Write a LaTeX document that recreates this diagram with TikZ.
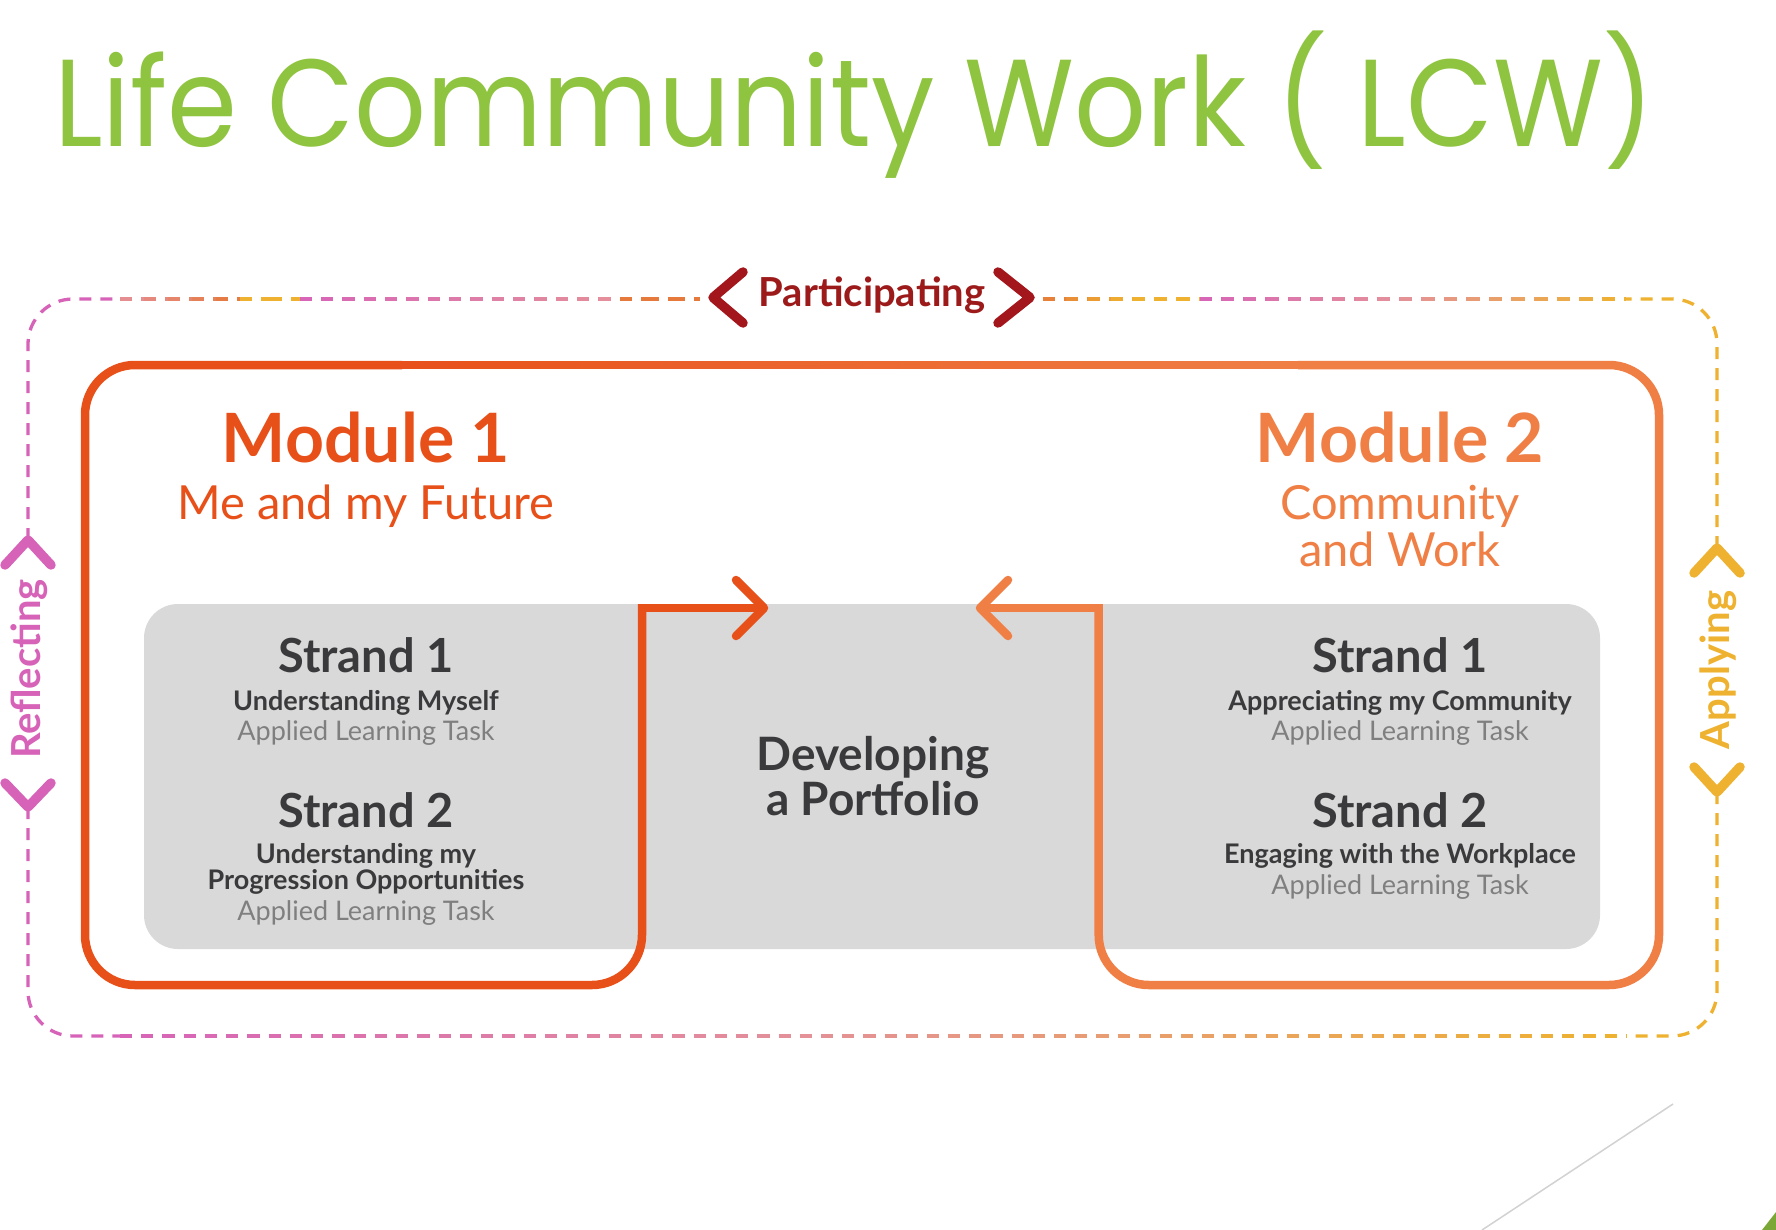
\documentclass[tikz,border=0pt]{standalone}
\usepackage{fontspec}
\setmainfont{Lato}
\newfontfamily\titlefont{Poppins}
\definecolor{mA}{HTML}{E8501A}
\definecolor{mB}{HTML}{EF7F45}
\definecolor{grayBox}{HTML}{D9D9D9}
\definecolor{txtD}{HTML}{3A3A3C}
\definecolor{txtG}{HTML}{7F7F7F}
\definecolor{partC}{HTML}{9C1A1A}
\definecolor{chevC}{HTML}{A3161C}
\definecolor{pinkC}{HTML}{D763B8}
\definecolor{yelC}{HTML}{EEB230}
\definecolor{orgC}{HTML}{E67A3C}
\definecolor{salC}{HTML}{E4909A}
\definecolor{greenT}{HTML}{8FC440}
\newcommand\fs[1]{\fontsize{#1}{#1}\selectfont}
% gradient dashed horizontal line: y, x1, x2, colour1, colour2
\newcommand\gradline[5]{%
  \pgfmathtruncatemacro\nseg{max(1,floor((#3-#2)/21))}%
  \pgfmathsetmacro\seglen{(#3-#2)/\nseg}%
  \foreach \i in {1,...,\nseg}{%
    \pgfmathtruncatemacro\pct{100-100*(\i-0.5)/\nseg}%
    \draw[dsh,color=#4!\pct!#5] (#2+\seglen*\i-\seglen,#1) -- (#2+\seglen*\i,#1);
  }}
\begin{document}
\begin{tikzpicture}[x=1pt,y=-1pt,
  dsh/.style={line width=3.3pt,dash pattern=on 12pt off 9pt},
  modline/.style={line width=8.5pt},
  arrowhd/.style={line width=8.5pt,line cap=round,line join=round},
  chev/.style={line width=9.5pt,line cap=round,line join=round},
  txt/.style={inner sep=0pt,anchor=base},
  modtitle/.style={txt,font=\fs{68}\bfseries},
  modsub/.style={txt,font=\fs{47}},
  strand/.style={txt,font=\fs{47}\bfseries,text=txtD},
  strandsub/.style={txt,font=\fs{27}\bfseries,text=txtD},
  task/.style={txt,font=\fs{27},text=txtG},
  side/.style={txt,rotate=90,font=\fs{40}\bfseries}]
\useasboundingbox (0,0) rectangle (1776,1230);
\fill[white] (0,0) rectangle (1776,1230);

% title
\node[inner sep=0pt,anchor=base west,text=greenT] (title) at (54,147)
  {\scalebox{1}[1.1]{\resizebox{1600pt}{!}{\titlefont\fs{120}Life Community Work ( LCW)}}};

% outer dashed frame
\draw[dsh,pinkC,rounded corners=45pt] (28,540) -- (28,299) -- (120,299);
\draw[dsh,pinkC,rounded corners=45pt] (28,807) -- (28,1036) -- (120,1036);
\draw[dsh,yelC,rounded corners=45pt] (1717,548) -- (1717,299) -- (1626,299);
\draw[dsh,yelC,rounded corners=45pt] (1717,792) -- (1717,1036) -- (1626,1036);
\gradline{299}{120}{240}{salC}{orgC}
\gradline{299}{240}{300}{yelC}{yelC}
\gradline{299}{300}{620}{pinkC}{salC}
\gradline{299}{620}{700}{orgC}{orgC}
\gradline{299}{1043}{1133}{orgC}{yelC}
\gradline{299}{1133}{1200}{yelC}{yelC}
\gradline{299}{1200}{1400}{pinkC}{salC}
\gradline{299}{1400}{1626}{salC}{yelC}
\gradline{1036}{120}{800}{pinkC}{salC}
\gradline{1036}{800}{1626}{salC}{yelC}

% side labels with chevrons
\draw[chev,chevC] (743,272) -- (713,297.5) -- (743,323);
\draw[chev,chevC] (998,272) -- (1030,297.5) -- (998,323);
\node[txt,font=\fs{40}\bfseries,text=partC] (part) at (872,306) {Participating};

\draw[chev,pinkC] (5,565) -- (28,540) -- (51,565);
\draw[chev,pinkC] (5,783) -- (28,807) -- (51,783);
\node[side,text=pinkC] (refl) at (40,669) {Reflecting};

\draw[chev,yelC] (1694,573) -- (1717,548) -- (1740,573);
\draw[chev,yelC] (1694,767) -- (1717,792) -- (1740,767);
\node[side,text=yelC] (appl) at (1729,670) {Applying};

% grey band
\fill[grayBox,rounded corners=34pt] (144,604) rectangle (1600,949);

% module outlines
\draw[modline,mA,rounded corners=50pt] (642,604) -- (642,985) -- (85,985) -- (85,365) -- (402,365);
\draw[modline,mA] (637.75,608) -- (764,608);
\draw[arrowhd,mA] (736,580) -- (764,608) -- (736,636);
\draw[modline,mB,rounded corners=50pt] (1098.7,604) -- (1098.7,985) -- (1659,985) -- (1659,365) -- (1298,365);
\draw[modline,mB] (1102.95,608) -- (980,608);
\draw[arrowhd,mB] (1008,580) -- (980,608) -- (1008,636);
% top edge: colour blends from module 1 to module 2
\foreach \k in {0,...,44}{
  \pgfmathtruncatemacro\pc{100-100*(\k+0.5)/45}
  \draw[modline,color=mA!\pc!mB] (400+20*\k,365) -- (421+20*\k,365);
}

% module 1 texts
\node[modtitle,text=mA] (m1) at (366,462) {Module 1};
\node[modsub,text=mA] (m1s) at (366,519) {Me and my Future};
\node[strand] (l1) at (366,672) {Strand 1};
\node[strandsub] (l1a) at (366,710) {Understanding Myself};
\node[task] (l1b) at (366,740) {Applied Learning Task};
\node[strand] (l2) at (366,827) {Strand 2};
\node[strandsub] (l2a) at (366,863) {Understanding my};
\node[strandsub] (l2b) at (366,889) {Progression Opportunities};
\node[task] (l2c) at (366,920) {Applied Learning Task};

% module 2 texts
\node[modtitle,text=mB] (m2) at (1400,462) {Module 2};
\node[modsub,text=mB] (m2s) at (1400,519) {Community};
\node[modsub,text=mB] (m2t) at (1400,566) {and Work};
\node[strand] (r1) at (1400,672) {Strand 1};
\node[strandsub] (r1a) at (1400,710) {Appreciating my Community};
\node[task] (r1b) at (1400,740) {Applied Learning Task};
\node[strand] (r2) at (1400,827) {Strand 2};
\node[strandsub] (r2a) at (1400,863) {Engaging with the Workplace};
\node[task] (r2b) at (1400,894) {Applied Learning Task};

% centre
\node[txt,font=\fs{46}\bfseries,text=txtD] (dev) at (873,770) {Developing};
\node[txt,font=\fs{46}\bfseries,text=txtD] (port) at (873,815) {a Portfolio};

% corner decoration
\draw[gray!35,line width=1.5pt] (1673,1104) -- (1482,1230);
\fill[greenT!85!black] (1762,1230) -- (1776,1212) -- (1776,1230) -- cycle;
\end{tikzpicture}
\end{document}
